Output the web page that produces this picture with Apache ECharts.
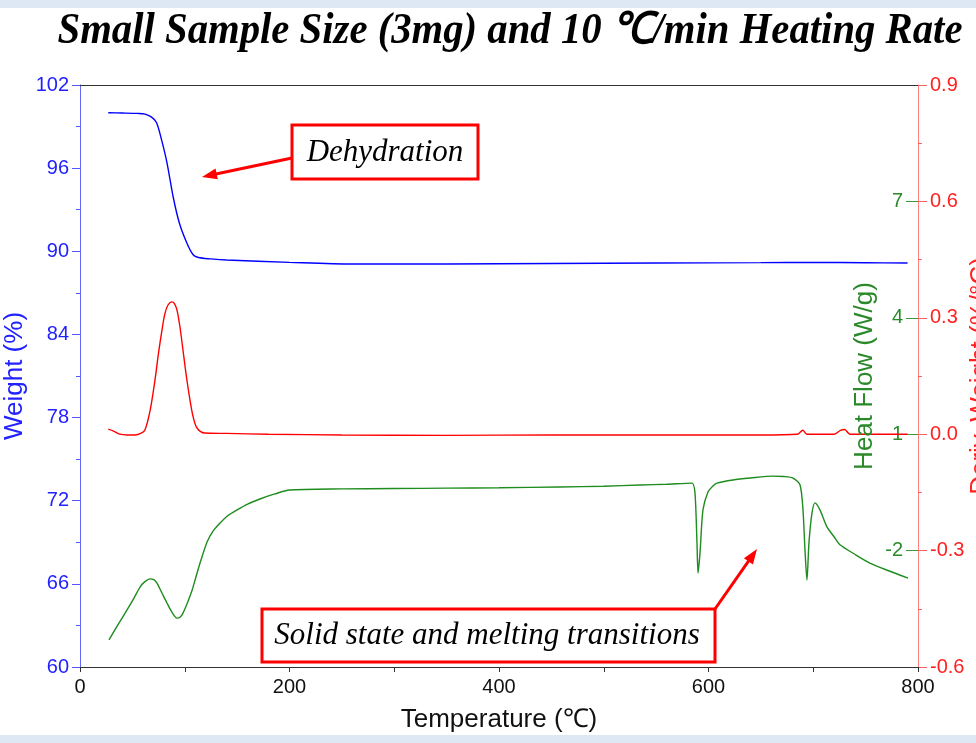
<!DOCTYPE html>
<html>
<head>
<meta charset="utf-8">
<script src="https://cdn.jsdelivr.net/npm/echarts@6/dist/echarts.min.js"></script>
<style>
html,body{margin:0;padding:0;background:#fff;}
#chart{width:976px;height:743px;background:linear-gradient(to bottom,#dde8f4 0,#dde8f4 8px,#ffffff 8px,#ffffff 735px,#dde8f4 735px);}
</style>
</head>
<body>
<div id="chart"></div>
<script>
// ---- Data ----
const titleText = 'Small Sample Size (3mg) and 10 \u2103/min Heating Rate';
const xTickValues = [0, 200, 400, 600, 800];
const weightTicks = [60, 66, 72, 78, 84, 90, 96, 102];
const derivTicks = [-0.6, -0.3, 0.0, 0.3, 0.6, 0.9];
const heatTickLabels = [-2, 1, 4, 7];

// Weight (%) vs Temperature (°C)
const weightData = [
  [27,100.0],[40,99.98],[55,99.95],[62,99.9],[68,99.7],[73,99.3],[78,98.0],[83,96.4],
  [89,93.9],[95,92.0],[102,90.6],[108,89.75],[113,89.55],[125,89.45],[140,89.37],
  [200,89.2],[260,89.08],[350,89.08],[450,89.12],[550,89.15],[650,89.18],[700,89.2],
  [750,89.17],[790,89.15]
];
// Deriv. Weight (%/°C)
const derivData = [
  [27,0.013],[32,0.008],[38,0.0],[45,-0.002],[52.5,-0.002],[58,0.002],[62,0.011],
  [67,0.062],[71.6,0.14],[75,0.21],[78.3,0.269],[81,0.31],[84,0.333],[87.8,0.341],
  [90,0.337],[92.6,0.32],[95.5,0.275],[98.3,0.217],[101.5,0.15],[105,0.088],[108,0.045],
  [111.7,0.016],[119,0.003],[140,0.002],[180,0.0],[250,-0.002],[350,-0.003],[450,-0.002],
  [550,-0.002],[650,-0.002],[685,0.0],[690,0.01],[694,0.0],[720,0.0],[726,0.01],
  [730,0.012],[735,0.0],[760,0.0],[790,0.0]
];
// Heat Flow (W/g)
const heatData = [
  [27.7,-4.30],[36,-3.92],[44.9,-3.53],[51,-3.25],[57.3,-2.94],[62,-2.80],[66.8,-2.73],
  [70.5,-2.75],[73.5,-2.84],[78,-3.08],[83,-3.35],[88,-3.60],[92.6,-3.74],[95.5,-3.72],
  [98.3,-3.61],[102.5,-3.35],[107,-3.02],[111,-2.65],[114.6,-2.32],[121.3,-1.78],
  [127,-1.50],[133.7,-1.29],[141,-1.10],[150,-0.95],[160,-0.80],[171.8,-0.67],[186,-0.54],
  [200,-0.44],[250,-0.41],[300,-0.40],[350,-0.39],[400,-0.38],[458,-0.36],[500,-0.34],
  [534.6,-0.31],[560,-0.29],[584.2,-0.26],[587.1,-0.52],[589,-1.80],[590,-2.58],
  [591.9,-2.06],[594.7,-0.95],[599.5,-0.49],[604,-0.34],[608,-0.26],[623.4,-0.18],
  [640,-0.13],[661.6,-0.08],[672,-0.09],[680.7,-0.13],[687.4,-0.31],[690.2,-0.95],
  [692.1,-1.98],[694,-2.76],[695.9,-1.80],[698.8,-1.03],[701.7,-0.77],[706.4,-0.95],
  [713.1,-1.39],[720,-1.65],[725.5,-1.85],[740,-2.10],[754,-2.32],[770,-2.50],[790.5,-2.71]
];

// ---- Styles ----
const BLUE = '#0000ff', RED = '#ff0000', GREEN = '#1e8c1e';
const SANS = '"Liberation Sans", Arial, sans-serif';
const SERIF = '"Liberation Serif", "Times New Roman", serif';

const chart = echarts.init(document.getElementById('chart'), null, {renderer: 'canvas'});

// measure title to condense it to original width
const cv = document.createElement('canvas').getContext('2d');
const titleSize = 44;
cv.font = 'italic bold ' + titleSize + 'px ' + SERIF;
const titleW = cv.measureText(titleText).width;
const titleScale = 905 / titleW;

function arrow(x1, y1, x2, y2) {
  const dx = x2 - x1, dy = y2 - y1, L = Math.hypot(dx, dy);
  const ux = dx / L, uy = dy / L, hl = 15, hw = 5.5;
  const bx = x2 - ux * hl, by = y2 - uy * hl;
  return [
    {type: 'line', shape: {x1: x1, y1: y1, x2: bx + ux * 2, y2: by + uy * 2}, style: {stroke: RED, lineWidth: 3}, z: 100},
    {type: 'polygon', shape: {points: [[x2, y2], [bx - uy * hw, by + ux * hw], [bx + uy * hw, by - ux * hw]]}, style: {fill: RED}, z: 100}
  ];
}

const option = {
  animation: false,
  grid: {left: 80, right: 58, top: 85, bottom: 76, containLabel: false, outerBoundsMode: 'none'},
  xAxis: [
    {
      type: 'value', position: 'bottom', min: 0, max: 800, interval: 200,
      axisLine: {show: true, onZero: false, lineStyle: {color: '#333', width: 1}},
      axisTick: {show: true, length: 5, lineStyle: {color: '#333'}},
      minorTick: {show: true, splitNumber: 2, length: 5, lineStyle: {color: '#333'}},
      splitLine: {show: false},
      axisLabel: {color: '#111', fontSize: 20, fontFamily: SANS, margin: 10},
      name: 'Temperature (\u2103)', nameLocation: 'middle', nameGap: 40, nameMoveOverlap: false,
      nameTextStyle: {color: '#111', fontSize: 26, fontFamily: SANS}
    },
    {
      type: 'value', position: 'top', min: 0, max: 800,
      axisLine: {show: true, onZero: false, lineStyle: {color: '#333', width: 1}},
      axisTick: {show: false}, axisLabel: {show: false}, splitLine: {show: false}
    }
  ],
  yAxis: [
    {
      type: 'value', position: 'left', min: 60, max: 102, interval: 6,
      axisLine: {show: true, onZero: false, lineStyle: {color: '#6666ff', width: 1}},
      axisTick: {show: true, length: 8, lineStyle: {color: '#5555ff'}},
      minorTick: {show: true, splitNumber: 2, length: 4, lineStyle: {color: '#5555ff'}},
      splitLine: {show: false},
      axisLabel: {color: '#2222ff', fontSize: 20, fontFamily: SANS, margin: 11},
      name: 'Weight (%)', nameLocation: 'middle', nameGap: 52, nameRotate: 90, nameMoveOverlap: false,
      nameTextStyle: {color: '#2222ff', fontSize: 26, fontFamily: SANS}
    },
    {
      type: 'value', position: 'right', min: -0.6, max: 0.9, interval: 0.3,
      axisLine: {show: true, onZero: false, lineStyle: {color: '#ff8080', width: 1}},
      axisTick: {show: true, length: 9, lineStyle: {color: '#ff6060'}},
      minorTick: {show: true, splitNumber: 2, length: 4, lineStyle: {color: '#ff6060'}},
      splitLine: {show: false},
      axisLabel: {color: '#ff2020', fontSize: 20, fontFamily: SANS, margin: 12,
        formatter: v => (Math.abs(v) < 1e-9 ? 0 : v).toFixed(1)},
      name: 'Deriv. Weight (%/\u00b0C)', nameLocation: 'middle', nameGap: 50, nameRotate: 90, nameMoveOverlap: false,
      nameTextStyle: {color: '#ff2020', fontSize: 26, fontFamily: SANS}
    },
    {
      type: 'value', position: 'right', min: -5, max: 10, interval: 3,
      axisLine: {show: false, onZero: false},
      axisTick: {show: true, inside: true, length: 12, lineStyle: {color: '#3a9a3a'}, customValues: heatTickLabels},
      splitLine: {show: false},
      axisLabel: {show: true, inside: true, color: '#2a8a2a', fontSize: 20, fontFamily: SANS, margin: 15,
        customValues: heatTickLabels}
    }
  ],
  series: [
    {type: 'line', name: 'Weight', xAxisIndex: 0, yAxisIndex: 0, data: weightData,
      showSymbol: false, smooth: 0.3, lineStyle: {color: BLUE, width: 1.4}, z: 3},
    {type: 'line', name: 'Deriv. Weight', xAxisIndex: 0, yAxisIndex: 1, data: derivData,
      showSymbol: false, smooth: 0.3, lineStyle: {color: RED, width: 1.4}, z: 3},
    {type: 'line', name: 'Heat Flow', xAxisIndex: 0, yAxisIndex: 2, data: heatData,
      showSymbol: false, smooth: 0.25, lineStyle: {color: GREEN, width: 1.4}, z: 3}
  ],
  graphic: [
    {type: 'text', x: 510, y: 10, scaleX: titleScale, originX: 0,
      style: {text: titleText, fill: '#000', font: 'italic bold ' + titleSize + 'px ' + SERIF, textAlign: 'center', textVerticalAlign: 'top'}, z: 100},
    {type: 'text', x: 865, y: 376, rotation: Math.PI / 2,
      style: {text: 'Heat Flow (W/g)', fill: '#2a8a2a', font: '26px ' + SANS, textAlign: 'center', textVerticalAlign: 'middle'}, z: 50},
    {type: 'rect', shape: {x: 292, y: 125, width: 186, height: 54}, style: {fill: '#fff', stroke: RED, lineWidth: 3}, z: 100},
    {type: 'text', x: 385, y: 153, style: {text: 'Dehydration', fill: '#000', font: 'italic 31px ' + SERIF, textAlign: 'center', textVerticalAlign: 'middle'}, z: 101},
    ...arrow(292, 158, 202, 177),
    {type: 'rect', shape: {x: 262, y: 609, width: 453, height: 53}, style: {fill: '#fff', stroke: RED, lineWidth: 3}, z: 100},
    {type: 'text', x: 487, y: 636, style: {text: 'Solid state and melting transitions', fill: '#000', font: 'italic 31px ' + SERIF, textAlign: 'center', textVerticalAlign: 'middle'}, z: 101},
    ...arrow(715, 609, 757, 549)
  ]
};
chart.setOption(option);
</script>
</body>
</html>
